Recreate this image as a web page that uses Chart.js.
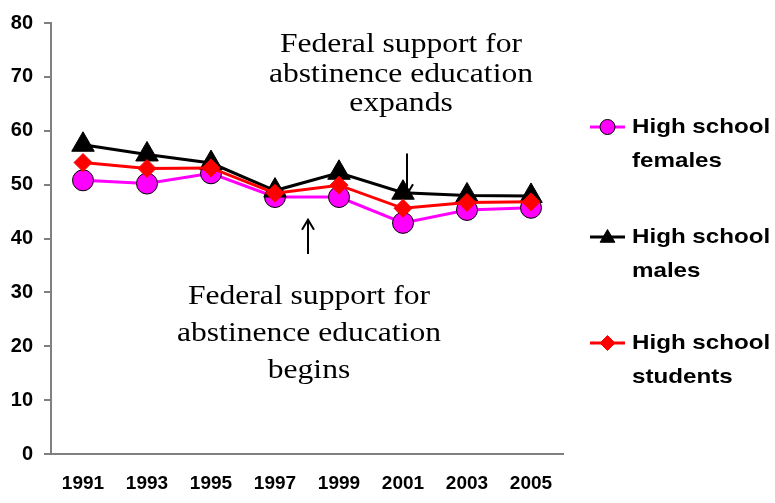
<!DOCTYPE html>
<html>
<head>
<meta charset="utf-8">
<script src="https://cdn.jsdelivr.net/npm/chart.js@4"></script>
<style>
html,body{margin:0;padding:0;background:#fff;}
#wrap{width:775px;height:503px;position:relative;}
canvas{display:block;}
</style>
</head>
<body>
<div id="wrap"><canvas id="c" width="775" height="503"></canvas></div>
<script>
// ---- data ----
const years = ['1991', '1993', '1995', '1997', '1999', '2001', '2003', '2005'];
const females = [50.8, 50.2, 52.1, 47.7, 47.7, 42.9, 45.3, 45.7];
const males = [57.4, 55.6, 54.0, 48.9, 52.2, 48.5, 48.0, 47.9];
const students = [54.1, 53.0, 53.1, 48.4, 49.9, 45.6, 46.7, 46.8];
const yTickMin = 0;
const yTickMax = 80;
const yTickStep = 10;
const legendLines = [['High school', 'females'], ['High school', 'males'], ['High school', 'students']];
const noteExpands = ['Federal support for', 'abstinence education', 'expands'];
const noteBegins = ['Federal support for', 'abstinence education', 'begins'];

const SANS = '"Liberation Sans", Arial, sans-serif';
const SERIF = '"Liberation Serif", "Times New Roman", serif';

function stretchText(ctx, text, x, y, font, sx, align, baseline) {
  ctx.save();
  ctx.translate(x, y);
  ctx.scale(sx, 1);
  ctx.font = font;
  ctx.textAlign = align;
  ctx.textBaseline = baseline;
  ctx.fillStyle = '#000';
  ctx.fillText(text, 0, 0);
  ctx.restore();
}

function drawMarker(ctx, style, x, y, r, fill, stroke) {
  ctx.save();
  ctx.beginPath();
  if (style === 'circle') {
    ctx.arc(x, y, r, 0, Math.PI * 2);
  } else if (style === 'triangle') {
    ctx.moveTo(x, y - r);
    ctx.lineTo(x + r * Math.sin(2 * Math.PI / 3), y - r * Math.cos(2 * Math.PI / 3));
    ctx.lineTo(x + r * Math.sin(4 * Math.PI / 3), y - r * Math.cos(4 * Math.PI / 3));
  } else {
    ctx.moveTo(x - r, y);
    ctx.lineTo(x, y - r);
    ctx.lineTo(x + r, y);
    ctx.lineTo(x, y + r);
  }
  ctx.closePath();
  ctx.fillStyle = fill;
  ctx.fill();
  ctx.lineWidth = 1;
  ctx.strokeStyle = stroke;
  ctx.stroke();
  ctx.restore();
}

function drawArrow(ctx, x, yTail, yTip) {
  const dir = yTip < yTail ? 1 : -1;
  ctx.save();
  ctx.strokeStyle = '#000';
  ctx.lineWidth = 2;
  ctx.beginPath();
  ctx.moveTo(x, yTail);
  ctx.lineTo(x, yTip);
  ctx.moveTo(x - 6, yTip + dir * 10);
  ctx.lineTo(x, yTip);
  ctx.lineTo(x + 6, yTip + dir * 10);
  ctx.stroke();
  ctx.restore();
}

const overlay = {
  id: 'overlay',
  afterDatasetsDraw(chart) {
    const ctx = chart.ctx;
    const xs = chart.scales.x;
    const ys = chart.scales.y;
    // annotations
    const xExp = xs.getPixelForValue(5);
    const xBeg = (xs.getPixelForValue(3) + xs.getPixelForValue(4)) / 2;
    const fontNote = '27px ' + SERIF;
    const expBase = [74.7, 69.0, 63.7];
    const begBase = [27.9, 20.9, 14.1];
    noteExpands.forEach((t, i) => stretchText(ctx, t, xExp - 2, ys.getPixelForValue(expBase[i]), fontNote, 1.17, 'center', 'alphabetic'));
    noteBegins.forEach((t, i) => stretchText(ctx, t, xBeg + 2, ys.getPixelForValue(begBase[i]), fontNote, 1.17, 'center', 'alphabetic'));
    drawArrow(ctx, xBeg + 1, ys.getPixelForValue(37.1), ys.getPixelForValue(43.5));
    drawArrow(ctx, xExp + 4, ys.getPixelForValue(55.8), ys.getPixelForValue(48.2));

    // legend
    const items = [
      { style: 'circle', color: '#FF00FF', stroke: '#000', r: 7.5, y: 127 },
      { style: 'triangle', color: '#000', stroke: '#000', r: 8.5, y: 237 },
      { style: 'diamond', color: '#FF0000', stroke: '#FF0000', r: 7.5, y: 343 }
    ];
    const fontLeg = 'bold 21px ' + SANS;
    items.forEach((it, i) => {
      ctx.save();
      ctx.strokeStyle = it.color;
      ctx.lineWidth = 3;
      ctx.beginPath();
      ctx.moveTo(590, it.y);
      ctx.lineTo(625, it.y);
      ctx.stroke();
      ctx.restore();
      drawMarker(ctx, it.style, 607.5, it.style === 'triangle' ? it.y + 1 : it.y, it.r, it.color, it.stroke);
      stretchText(ctx, legendLines[i][0], 632, it.y, fontLeg, 1.15, 'left', 'middle');
      stretchText(ctx, legendLines[i][1], 632, it.y + 34, fontLeg, 1.15, 'left', 'middle');
    });
  }
};

new Chart(document.getElementById('c'), {
  type: 'line',
  data: {
    labels: years,
    datasets: [
      {
        label: legendLines[0].join(' '), data: females,
        borderColor: '#FF00FF', backgroundColor: '#FF00FF', borderWidth: 3,
        pointStyle: 'circle', pointRadius: 10.5, pointBorderColor: '#000', pointBorderWidth: 1,
        pointBackgroundColor: '#FF00FF', order: 2
      },
      {
        label: legendLines[1].join(' '), data: males,
        borderColor: '#000', backgroundColor: '#000', borderWidth: 3,
        pointStyle: 'triangle', pointRadius: 13, pointBorderColor: '#000', pointBorderWidth: 1,
        pointBackgroundColor: '#000', order: 1
      },
      {
        label: legendLines[2].join(' '), data: students,
        borderColor: '#FF0000', backgroundColor: '#FF0000', borderWidth: 3,
        pointStyle: 'rectRot', pointRadius: 9, pointBorderColor: '#FF0000', pointBorderWidth: 1,
        pointBackgroundColor: '#FF0000', order: 0
      }
    ]
  },
  options: {
    responsive: false,
    animation: false,
    devicePixelRatio: 1,
    layout: { padding: { left: 0, right: 212, top: 18, bottom: 0 } },
    plugins: { legend: { display: false }, tooltip: { enabled: false } },
    scales: {
      x: {
        offset: true,
        grid: { display: false, drawTicks: false },
        border: { display: true, color: '#808080', width: 2 },
        ticks: { font: { family: SANS, weight: 'bold', size: 19 }, color: '#000', padding: 18, maxRotation: 0, autoSkip: false },
        afterFit(s) { s.height = 49; }
      },
      y: {
        min: yTickMin, max: yTickMax,
        ticks: { stepSize: yTickStep, font: { family: SANS, weight: 'bold', size: 20 }, color: '#000', padding: 11 },
        grid: { drawOnChartArea: false, drawTicks: true, tickLength: 7, color: '#808080', lineWidth: 2 },
        border: { display: true, color: '#808080', width: 2 },
        afterFit(s) { s.width = 51; }
      }
    }
  },
  plugins: [overlay]
});
</script>
</body>
</html>
